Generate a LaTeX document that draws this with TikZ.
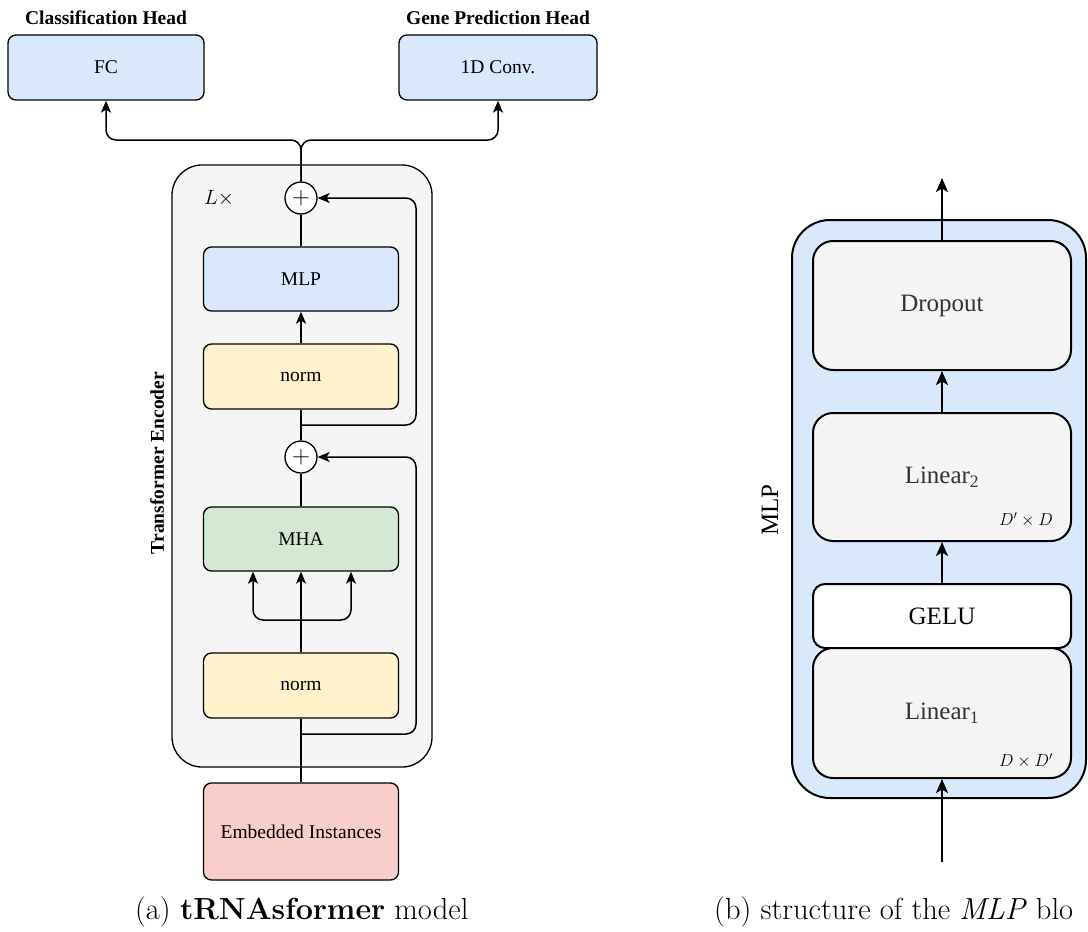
\documentclass[tikz,border=0pt]{standalone}
\usepackage{fontspec}
\newfontfamily\tnr{Liberation Serif}
\usetikzlibrary{arrows.meta}
\definecolor{cblue}{HTML}{DAE8FC}
\definecolor{cyellow}{HTML}{FFF2CC}
\definecolor{cgreen}{HTML}{D5E8D4}
\definecolor{cred}{HTML}{F8CECC}
\definecolor{cgray}{HTML}{F5F5F5}
\definecolor{tgray}{HTML}{333333}
\begin{document}
\begin{tikzpicture}[x=1pt,y=-1pt,
  lbox/.style={draw, line width=1.3pt, rounded corners=8pt, inner sep=0pt,
    minimum width=195pt, minimum height=64pt, font=\tnr\fontsize{19.5}{22}\selectfont},
  rbox/.style={draw, line width=2pt, rounded corners=20pt, inner sep=0pt, fill=cgray,
    minimum width=258pt, font=\tnr\fontsize{25}{28}\selectfont, text=tgray},
  ln/.style={line width=1.5pt},
  arr/.style={line width=1.5pt, -{Stealth[length=12pt,width=10pt,inset=3pt]}},
  rarr/.style={line width=2.2pt, -{Stealth[length=14pt,width=12pt,inset=3.5pt]}},
  plus/.style={draw, circle, fill=white, line width=1.3pt, minimum size=32pt, inner sep=0pt},
  head/.style={font=\tnr\bfseries\fontsize{19.5}{22}\selectfont, inner sep=0pt},
  dim/.style={font=\fontsize{18}{20}\selectfont, inner sep=0pt},
  captext/.style={anchor=base west, inner sep=0pt, font=\fontsize{30.5}{36}\selectfont}
]
\useasboundingbox (0,0) rectangle (1088,932);

% ---------- (a) ----------
\draw[fill=cgray, line width=1.3pt, rounded corners=30pt] (172,165) rectangle (432,767);

\node[head] (hcls) at (106,18) {Classification Head};
\node[head] (hgene) at (498,18) {Gene Prediction Head};
\node[lbox, fill=cblue, minimum width=196pt, minimum height=65pt] (fc) at (106,67.5) {FC};
\node[lbox, fill=cblue, minimum width=198pt, minimum height=65pt] (gene) at (498,67.5) {1D Conv.};

\node[plus] (p1) at (301,198) {\fontsize{24}{24}\selectfont$+$};
\node[plus] (p2) at (301,457) {\fontsize{24}{24}\selectfont$+$};
\node[inner sep=0pt, font=\fontsize{20}{22}\selectfont] (lx) at (219,198) {$L\times$};

\node[lbox, fill=cblue] (mlp) at (301,279) {MLP};
\node[lbox, fill=cyellow, minimum height=65pt] (nt) at (301,376.5) {norm};
\node[lbox, fill=cgreen] (mha) at (301,539) {MHA};
\node[lbox, fill=cyellow, minimum height=65pt] (nb) at (301,685.5) {norm};
\node[lbox, fill=cred, minimum height=97pt] (emb) at (301,831.5) {Embedded Instances};

\node[head, rotate=90] (te) at (157,463) {Transformer Encoder};

\coordinate (split) at (301,140);
\draw[arr, rounded corners=10pt] (p1.north) -- (split) -| (fc.south);
\draw[arr, rounded corners=10pt] (p1.north) -- (split) -| (gene.south);

\draw[ln] (emb.north) -- (nb.south);
\coordinate (br) at (301,620);
\draw[arr] (nb.north) -- (mha.south);
\draw[arr, rounded corners=10pt] (br) -| ([xshift=-48pt]mha.south);
\draw[arr, rounded corners=10pt] (br) -| ([xshift=50pt]mha.south);
\draw[ln] (mha.north) -- (p2.south);
\draw[ln] (p2.north) -- (nt.south);
\draw[arr] (nt.north) -- (mlp.south);
\draw[ln] (mlp.north) -- (p1.south);

\coordinate (s1) at (301,425);
\coordinate (c1) at (416,198);
\draw[arr, rounded corners=10pt] (s1) -| (c1) -- (p1.east);
\coordinate (s2) at (301,734);
\coordinate (c2) at (416,457);
\draw[arr, rounded corners=10pt] (s2) -| (c2) -- (p2.east);

% ---------- (b) ----------
\draw[fill=cblue, line width=2pt, rounded corners=38pt] (792,220) rectangle (1086,798);
\node[font=\tnr\fontsize{25}{28}\selectfont, rotate=90, inner sep=0pt] (mlplab) at (770,510) {MLP};

\node[rbox, minimum height=129pt] (drop) at (942,305.5) {Dropout};
\node[rbox, minimum height=128pt] (lin2) at (942,477) {Linear\textsubscript{2}};
\node[rbox, minimum height=64pt, fill=white, rounded corners=12pt, text=black] (gelu) at (942,616) {GELU};
\node[rbox, minimum height=130pt] (lin1) at (942,713) {Linear\textsubscript{1}};
\node[dim] (d2) at (1026,520) {$D'\times D$};
\node[dim] (d1) at (1026,761) {$D\times D'$};

\coordinate (out) at (942,178);
\coordinate (in) at (942,862);
\draw[rarr] (drop.north) -- (out);
\draw[rarr] (lin2.north) -- (drop.south);
\draw[rarr] (gelu.north) -- (lin2.south);
\draw[rarr] (in) -- (lin1.south);

% ---------- captions ----------
\node[captext] (capa) at (135,919) {(a) \textbf{tRNAsformer} model};
\node[captext] (capb) at (714,919) {(b) structure of the \textit{MLP} blo};
\end{tikzpicture}
\end{document}
